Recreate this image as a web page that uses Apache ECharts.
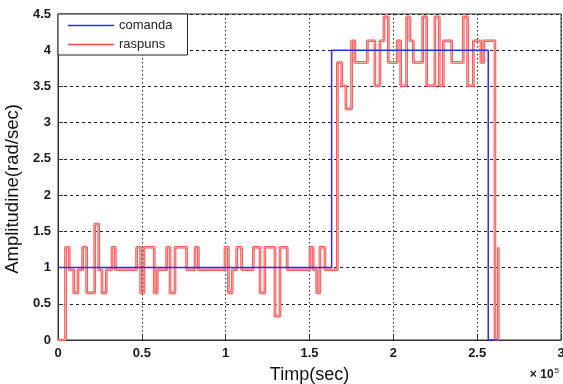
<!DOCTYPE html>
<html>
<head>
<meta charset="utf-8">
<script src="https://cdn.jsdelivr.net/npm/echarts@6/dist/echarts.min.js"></script>
<style>
  html, body { margin: 0; padding: 0; background: #fff; }
  #main { width: 563px; height: 384px; }
</style>
</head>
<body>
<div id="main"></div>
<script>
// time in units of 1e5 sec
var comandaX = [0, 1.632, 2.566, 2.626];
var comandaY = [1, 4, 0, 0];

var raspunsX = [0, 0.045, 0.067, 0.094, 0.119, 0.147, 0.171, 0.219, 0.243, 0.262,
  0.288, 0.322, 0.342, 0.469, 0.493, 0.513, 0.574, 0.592, 0.648, 0.668,
  0.698, 0.767, 0.817, 0.837, 0.996, 1.016, 1.039, 1.066, 1.095, 1.165,
  1.205, 1.234, 1.294, 1.324, 1.367, 1.503, 1.522, 1.543, 1.562, 1.592,
  1.666, 1.692, 1.717, 1.751, 1.771, 1.845, 1.890, 1.920, 1.944, 1.970,
  2.023, 2.044, 2.079, 2.099, 2.119, 2.175, 2.199, 2.248, 2.274, 2.298,
  2.348, 2.417, 2.443, 2.477, 2.522, 2.540, 2.606, 2.626];
var raspunsY = [0, 1.28, 0.97, 0.65, 0.97, 1.28, 0.65, 1.6, 0.97, 0.65,
  0.97, 1.28, 0.97, 1.28, 0.65, 1.28, 0.65, 0.97, 1.28, 0.65,
  1.28, 0.97, 1.28, 0.97, 1.28, 0.65, 0.97, 1.28, 0.97, 1.28,
  0.65, 1.28, 0.33, 1.28, 0.97, 1.28, 0.97, 0.65, 1.28, 0.97,
  3.83, 3.51, 3.19, 4.13, 3.83, 4.13, 3.51, 4.13, 4.46, 3.83,
  4.13, 3.51, 4.46, 4.13, 3.83, 4.46, 3.51, 4.46, 3.51, 4.13,
  3.83, 4.46, 3.51, 4.13, 3.83, 4.13, 0, 1.28];

function pairs(xs, ys) {
  var out = [];
  for (var i = 0; i < xs.length; i++) out.push([xs[i], ys[i]]);
  return out;
}
var comanda = pairs(comandaX, comandaY);
var raspuns = pairs(raspunsX, raspunsY);

var myChart = echarts.init(document.getElementById('main'));
var labelFont = { color: '#1a1a1a', fontSize: 13, fontFamily: 'Liberation Sans, Arial', fontWeight: 'bold' };

var option = {
  backgroundColor: '#fff',
  animation: false,
  grid: {
    left: 58, right: 2, top: 14, bottom: 44, outerBoundsMode: 'none', containLabel: false,
    show: true, borderColor: '#333', borderWidth: 1
  },
  legend: {
    left: 58, top: 14, orient: 'vertical', icon: 'rect',
    backgroundColor: '#fff', borderColor: '#222', borderWidth: 1,
    padding: [5, 15, 4, 10], itemGap: 6, itemWidth: 46, itemHeight: 1.5,
    textStyle: { fontSize: 13, color: '#222', fontFamily: 'Liberation Sans, Arial' },
    data: ['comanda', 'raspuns']
  },
  xAxis: {
    type: 'value', min: 0, max: 3, interval: 0.5,
    name: 'Timp(sec)', nameLocation: 'middle', nameGap: 26,
    nameTextStyle: { fontSize: 18, color: '#111', fontFamily: 'Liberation Sans, Arial' },
    axisLine: { lineStyle: { color: '#333' } },
    axisTick: { inside: true, length: 5, lineStyle: { color: '#333' } },
    axisLabel: Object.assign({ margin: 7 }, labelFont),
    splitLine: { show: true, lineStyle: { color: '#222', type: [1.5, 2.5], width: 1 } }
  },
  yAxis: {
    type: 'value', min: 0, max: 4.5, interval: 0.5,
    name: 'Amplitudine(rad/sec)', nameLocation: 'middle', nameGap: 25,
    nameTextStyle: { fontSize: 18.5, color: '#111', fontFamily: 'Liberation Sans, Arial', padding: [0, 24, 0, 0] },
    axisLine: { show: true, lineStyle: { color: '#333' } },
    axisTick: { show: true, inside: true, length: 5, lineStyle: { color: '#333' } },
    axisLabel: Object.assign({ margin: 7 }, labelFont),
    splitLine: { show: true, lineStyle: { color: '#222', type: [3, 3], width: 1 } }
  },
  graphic: [{
    type: 'text', right: 4, bottom: 3,
    style: {
      text: '{a|× 10}{b|5}',
      rich: {
        a: { fontSize: 12, fontWeight: 'bold', fill: '#1a1a1a', fontFamily: 'Liberation Sans, Arial' },
        b: { fontSize: 8, fill: '#1a1a1a', verticalAlign: 'top', padding: [0, 0, 8, 1], fontFamily: 'Liberation Sans, Arial' }
      }
    }
  }],
  series: [
    {
      name: 'raspuns', type: 'line', step: 'end', data: raspuns, symbol: 'none',
      color: '#ff4444', lineStyle: { color: '#ff4444', width: 2.6 }, z: 2
    },
    {
      name: 'raspunsInner', type: 'line', step: 'end', data: raspuns, symbol: 'none',
      silent: true, lineStyle: { color: '#ffc8c8', width: 0.8 }, z: 3
    },
    {
      name: 'comanda', type: 'line', step: 'end', data: comanda, symbol: 'none',
      color: '#2b2bff', lineStyle: { color: '#2b2bff', width: 1.5 }, z: 4
    }
  ]
};
myChart.setOption(option);
</script>
</body>
</html>
